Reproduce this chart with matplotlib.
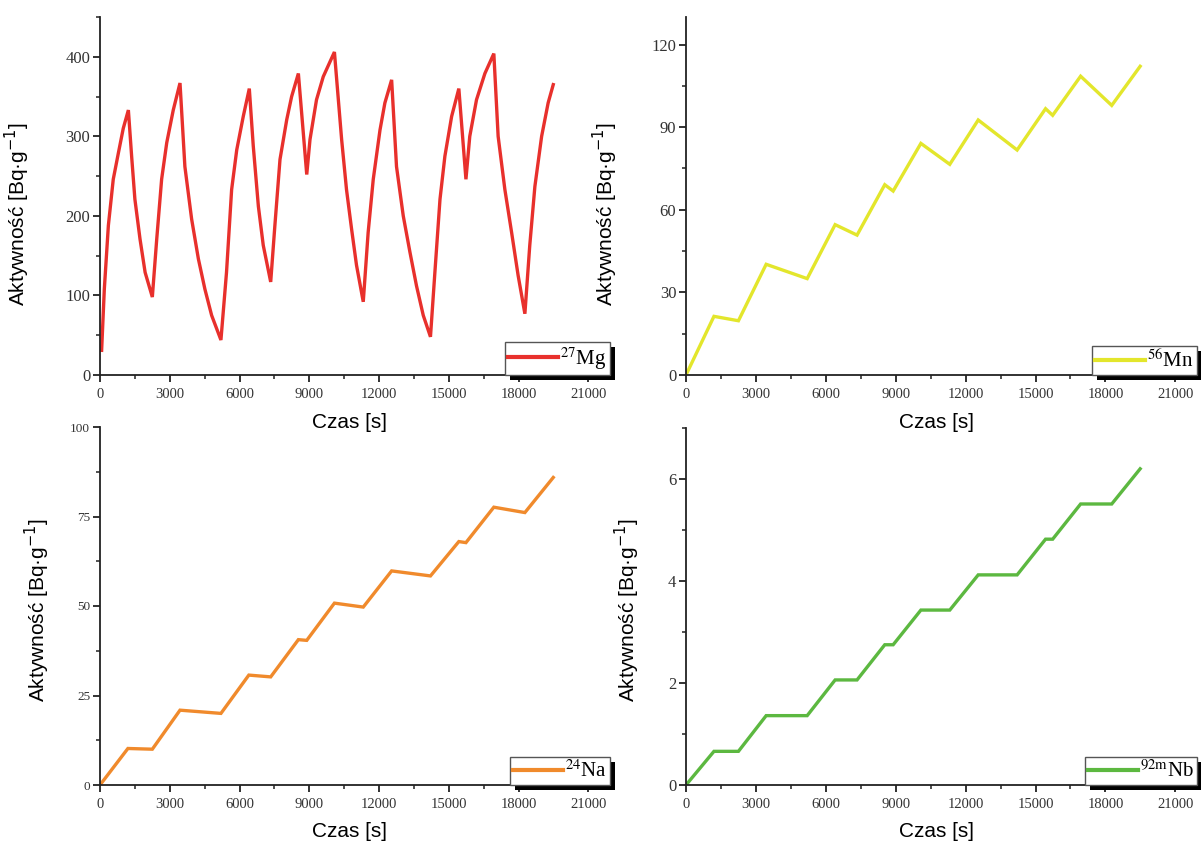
import matplotlib
matplotlib.use('Agg')
import matplotlib.pyplot as plt
import matplotlib.patheffects as pe
from matplotlib.ticker import MultipleLocator

# dane
czas_mg = [70, 186, 360, 570, 790, 1000, 1220, 1360, 1500, 1720, 1940, 2250, 2440, 2650, 2870,
           3150, 3440, 3650, 3940, 4230, 4510, 4800, 5200, 5440, 5660, 5880, 6160, 6420, 6590,
           6810, 7020, 7340, 7520, 7740, 8030, 8240, 8530, 8890, 9030, 9310, 9600, 10080, 10390,
           10600, 10820, 11030, 11320, 11530, 11750, 12040, 12250, 12540, 12750, 13040, 13330,
           13610, 13900, 14210, 14400, 14620, 14830, 15120, 15430, 15735, 15900, 16190, 16550,
           16935, 17120, 17410, 17700, 17980, 18270, 18480, 18700, 18990, 19270, 19490]
akt_mg = [31, 108, 188, 246, 279, 310, 333, 275, 221, 171, 129, 98, 171, 246, 292,
          333, 367, 262, 196, 146, 108, 75, 44, 129, 233, 283, 325, 360, 288,
          212, 163, 117, 188, 271, 321, 350, 379, 252, 296, 346, 375, 406, 296,
          233, 183, 138, 92, 179, 246, 308, 342, 371, 262, 200, 154,
          112, 75, 48, 129, 221, 275, 325, 360, 246, 300, 346, 379,
          404, 300, 233, 179, 125, 77, 163, 237, 300, 342, 365]

czas = [0, 1200, 2250, 3440, 5200, 6400, 7340, 8530, 8890, 10080, 11320, 12540, 14210,
        15430, 15735, 16935, 18270, 19490]
akt_mn = [0, 21.3, 19.7, 40.2, 35.0, 54.6, 50.8, 69.1, 66.8, 84.1, 76.5, 92.6, 81.7,
          96.7, 94.3, 108.5, 97.9, 112.1]
akt_na = [0, 10.2, 10.0, 20.9, 20.0, 30.7, 30.2, 40.6, 40.4, 50.8, 49.7, 59.8, 58.4,
          68.0, 67.7, 77.6, 76.1, 85.9]
akt_nb = [0, 0.66, 0.66, 1.36, 1.36, 2.06, 2.06, 2.75, 2.75, 3.43, 3.43, 4.12, 4.12,
          4.82, 4.82, 5.51, 5.51, 6.20]

fig = plt.figure(figsize=(12.01, 8.49), dpi=100)

W, H = 1201, 849
def box(x0, y0, x1, y1):
    return [x0 / W, 1 - y1 / H, (x1 - x0) / W, (y1 - y0) / H]

panele = [
    (box(100, 17, 600, 375), czas_mg, akt_mg, '#e8302c', r'$^{27}$Mg', 450, 100, 50, 12, (-0.136, 0.45), -0.105),
    (box(686, 17, 1187, 375), czas, akt_mn, '#e3e62c', r'$^{56}$Mn', 130, 30, 15, 12, (-0.132, 0.45), -0.105),
    (box(100, 427, 600, 785), czas, akt_na, '#f08a2c', r'$^{24}$Na', 100, 25, 12.5, 9.5, (-0.096, 0.49), -0.103),
    (box(686, 428, 1187, 785), czas, akt_nb, '#5cb840', r'$^{92\mathrm{m}}$Nb', 7, 2, 1, 12, (-0.088, 0.49), -0.103),
]

for pos, x, y, kolor, etykieta, ymax, ymaj, ymin, yfs, lab_xy, xlab_y in panele:
    ax = fig.add_axes(pos)
    ax.set_facecolor('none')
    ax.plot(x, y, color=kolor, lw=2.4, label=etykieta, solid_joinstyle='miter')
    ax.set_xlim(0, 21500)
    ax.set_ylim(0, ymax)
    ax.xaxis.set_major_locator(MultipleLocator(3000))
    ax.xaxis.set_minor_locator(MultipleLocator(1500))
    ax.yaxis.set_major_locator(MultipleLocator(ymaj))
    ax.yaxis.set_minor_locator(MultipleLocator(ymin))
    ax.spines['top'].set_visible(False)
    ax.spines['right'].set_visible(False)
    for s in ('left', 'bottom'):
        ax.spines[s].set_linewidth(1.3)
        ax.spines[s].set_color('#222222')
    ax.tick_params(which='major', direction='out', length=5, width=1.3, color='#222222')
    ax.tick_params(which='minor', direction='out', length=3, width=1.1, color='#222222')
    ax.tick_params(axis='x', labelsize=10.5, pad=4)
    ax.tick_params(axis='y', labelsize=yfs, pad=2)
    for t in ax.get_xticklabels() + ax.get_yticklabels():
        t.set_fontfamily('Liberation Serif')
        t.set_color('#333333')
    ax.set_xlabel('Czas [s]', fontsize=15, fontfamily='Liberation Sans')
    ax.xaxis.set_label_coords(0.5, xlab_y)
    yl = ax.set_ylabel(r'Aktywność [Bq·g$^{\mathsf{-1}}$]', fontsize=15, fontfamily='Liberation Sans')
    yl.set_math_fontfamily('dejavusans')
    ax.yaxis.set_label_coords(*lab_xy)
    leg = ax.legend(loc='lower right', bbox_to_anchor=(1.02, 0.0), borderaxespad=0,
                    prop={'family': 'Liberation Serif', 'size': 15}, handlelength=2.4,
                    fancybox=False, framealpha=1, edgecolor='#555555',
                    borderpad=0.15, handletextpad=0.1)
    leg.get_frame().set_linewidth(1.0)
    leg.get_frame().set_path_effects([
        pe.SimplePatchShadow(offset=(3.5, -3.5), shadow_rgbFace='k', alpha=1),
        pe.Normal()])
    for t in leg.get_texts():
        t.set_math_fontfamily('stix')
    leg.get_lines()[0].set_linewidth(3)

fig.savefig('out.png', dpi=100)
